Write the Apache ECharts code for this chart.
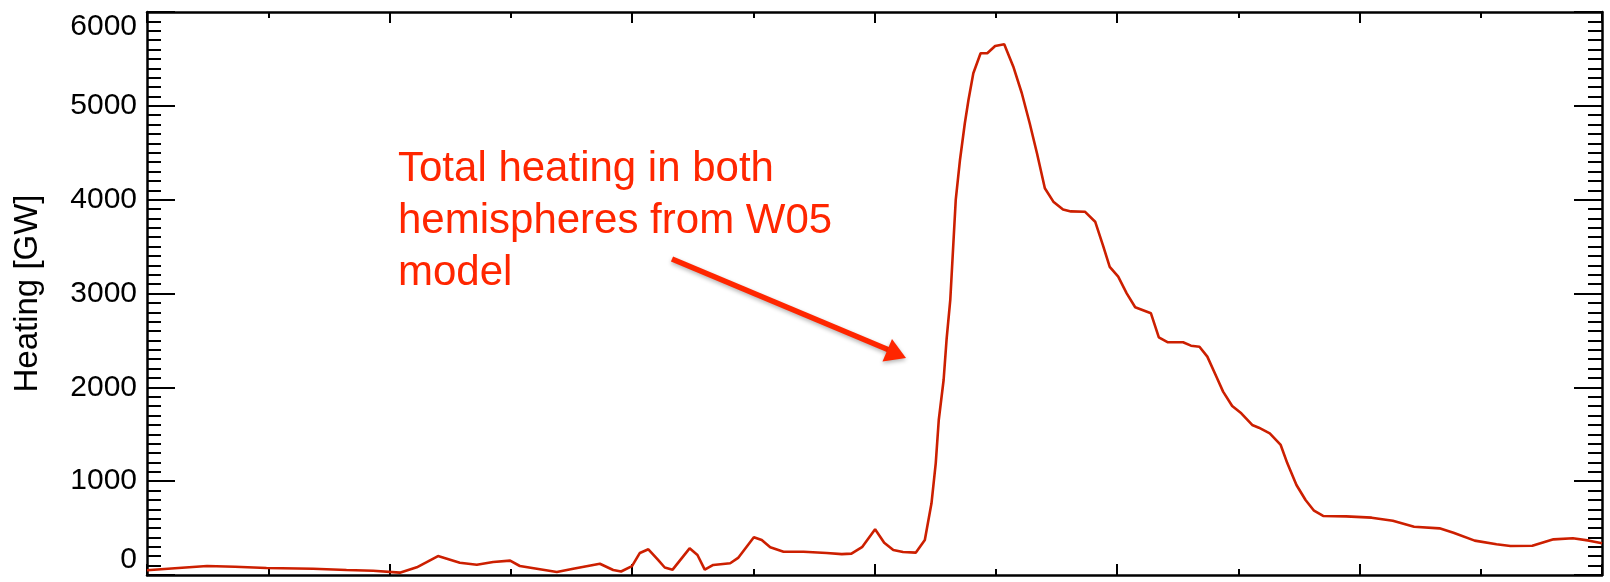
<!DOCTYPE html>
<html>
<head>
<meta charset="utf-8">
<script src="https://cdn.jsdelivr.net/npm/echarts@6/dist/echarts.min.js"></script>
<style>
html,body{margin:0;padding:0;background:#ffffff;}
#chart{width:1610px;height:582px;}
</style>
</head>
<body>
<div id="chart"></div>
<script>
// ---- data ----
const timeHours = [0.00,0.46,0.99,1.45,1.97,2.74,3.29,3.73,4.17,4.45,4.80,5.16,5.44,5.71,5.99,6.15,6.43,6.76,7.03,7.47,7.69,7.82,8.00,8.13,8.27,8.43,8.54,8.67,8.95,9.08,9.20,9.34,9.62,9.75,10.01,10.14,10.28,10.50,10.83,11.21,11.46,11.62,11.80,12.01,12.16,12.31,12.47,12.68,12.83,12.94,13.01,13.06,13.14,13.19,13.25,13.34,13.41,13.49,13.55,13.63,13.75,13.86,13.99,14.14,14.29,14.43,14.56,14.68,14.81,14.95,15.11,15.24,15.47,15.64,15.77,15.88,16.02,16.16,16.30,16.56,16.69,16.84,17.09,17.22,17.36,17.49,17.64,17.75,17.90,18.05,18.23,18.34,18.52,18.70,18.81,18.96,19.11,19.25,19.40,19.78,20.20,20.55,20.90,21.32,21.55,21.90,22.26,22.49,22.85,23.20,23.52,23.79,24.00];
const heatingGW = [50,72,96,88,75,67,53,46,25,82,202,131,110,139,153,96,67,32,67,120,53,37,95,235,274,160,80,57,284,213,57,107,125,182,402,372,295,248,248,234,222,228,300,487,344,266,245,238,373,764,1190,1652,2078,2520,2931,3997,4423,4814,5062,5347,5560,5560,5638,5656,5417,5134,4814,4494,4121,3979,3895,3875,3872,3765,3510,3283,3179,3002,2853,2789,2533,2480,2480,2444,2433,2327,2113,1954,1801,1723,1599,1570,1510,1386,1190,959,799,685,629,625,611,579,515,497,451,366,327,309,312,380,391,366,338];
const yTicks = [0,1000,2000,3000,4000,5000,6000];
const xTicks = [0,4,8,12,16,20,24];
const yAxisTitle = 'Heating [GW]';
const annotationLines = ['Total heating in both','hemispheres from W05','model'];

// ---- chart ----
const chart = echarts.init(document.getElementById('chart'), null, {renderer:'canvas'});
const seriesData = timeHours.map((t,i)=>[t, heatingGW[i]]);
const FONT = '"Liberation Sans", Arial, Helvetica, sans-serif';
const yMin = yTicks[0], yMax = yTicks[yTicks.length-1], yInt = yTicks[1]-yTicks[0];
const xMin = xTicks[0], xMax = xTicks[xTicks.length-1], xInt = xTicks[1]-xTicks[0];
const axisLine = {show:true, onZero:false, lineStyle:{color:'#000', width:2.5}};

function yAxisCfg(pos, labels){
  return {
    type:'value', position:pos, min:yMin, max:yMax, interval:yInt,
    axisLine: axisLine,
    axisTick:{show:true, inside:true, length:28, lineStyle:{color:'#000', width:2}},
    minorTick:{show:true, splitNumber:10, length:14, lineStyle:{color:'#000', width:2}},
    splitLine:{show:false}, minorSplitLine:{show:false},
    axisLabel:{show:labels, color:'#000', fontFamily:FONT, fontSize:30, margin:10,
      formatter:(v)=>String(v),
      verticalAlignMaxLabel:'top', verticalAlignMinLabel:'bottom'},
    name: labels ? yAxisTitle : '', nameLocation:'middle', nameGap:103,
    nameTextStyle:{color:'#000', fontFamily:FONT, fontSize:33}
  };
}
function xAxisCfg(pos){
  return {
    type:'value', position:pos, min:xMin, max:xMax, interval:xInt,
    axisLine: axisLine,
    axisTick:{show:true, inside:true, length:11, lineStyle:{color:'#000', width:2}},
    minorTick:{show:true, splitNumber:2, length:6, lineStyle:{color:'#000', width:2}},
    splitLine:{show:false}, minorSplitLine:{show:false},
    axisLabel:{show:false}
  };
}

chart.setOption({
  animation:false,
  backgroundColor:'#ffffff',
  grid:{left:147, right:8, top:12, bottom:7, containLabel:false},
  xAxis:[xAxisCfg('bottom'), xAxisCfg('top')],
  yAxis:[yAxisCfg('left', true), yAxisCfg('right', false)],
  series:[{
    type:'line', xAxisIndex:0, yAxisIndex:0, data:seriesData,
    showSymbol:false, smooth:false,
    lineStyle:{color:'#cc1f00', width:2.6}
  }],
  graphic:[
    {type:'text', left:398, top:143, z:10,
     style:{text:annotationLines.join('\n'), fill:'#ff2600', font:'42px ' + FONT, lineHeight:52}},
    {type:'line', z:10,
     shape:{x1:672, y1:259, x2:889, y2:350},
     style:{stroke:'#ff2600', lineWidth:5.5, shadowBlur:4, shadowColor:'rgba(0,0,0,0.3)', shadowOffsetY:2}},
    {type:'polygon', z:10,
     shape:{points:[[906,358],[882.5,361.5],[892,339]]},
     style:{fill:'#ff2600', shadowBlur:4, shadowColor:'rgba(0,0,0,0.3)', shadowOffsetY:2}}
  ]
});
</script>
</body>
</html>
